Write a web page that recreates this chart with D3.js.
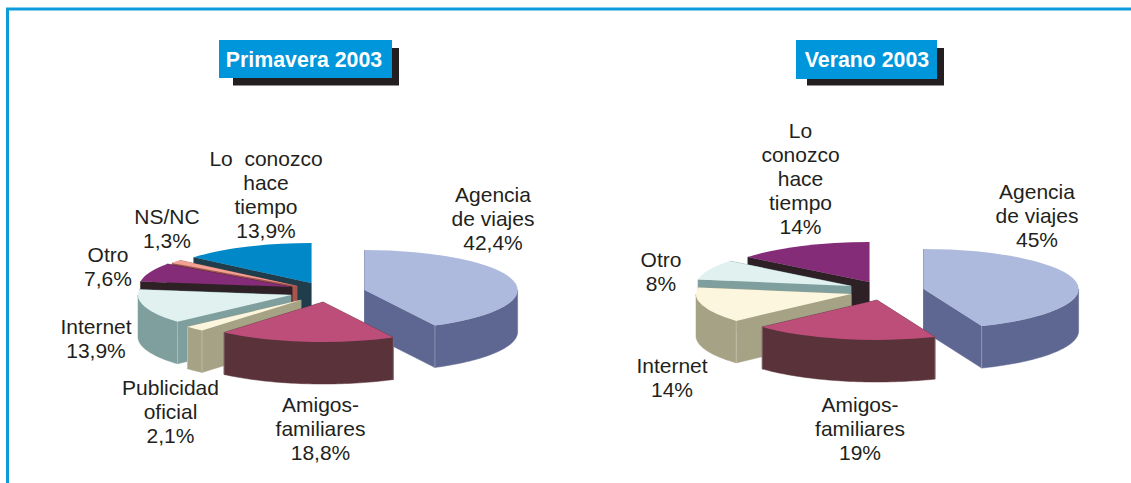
<!DOCTYPE html>
<html lang="es"><head><meta charset="utf-8">
<style>html,body{margin:0;padding:0;background:#fff}svg{display:block}
text{font-family:"Liberation Sans",Arial,sans-serif}</style>
<script src="https://cdn.jsdelivr.net/npm/d3@7/dist/d3.min.js"></script>
</head><body><svg id="c" width="1131" height="483"></svg>
<script>
// ---- data ----
const primaveraCategories = ["Agencia de viajes","Amigos-familiares","Publicidad oficial","Internet","Otro","NS/NC","Lo conozco hace tiempo"];
const primaveraValues = [42.4,18.8,2.1,13.9,7.6,1.3,13.9];
const primaveraTitle = "Primavera 2003";
const veranoCategories = ["Agencia de viajes","Amigos-familiares","Internet","Otro","Lo conozco hace tiempo"];
const veranoValues = [45,19,14,8,14];
const veranoTitle = "Verano 2003";

// ---- styles and layout ----
const palette = {
  blue:["#adbade","#5e6792"], rose:["#bd4e7a","#5a333a"], cream:["#fdf6df","#a6a285"],
  mint:["#e0f1f0","#7f9f9f"], plum:["#852c79","#2e2126"], coral:["#f2a294","#a85550"], cyan:["#0088c8","#203d4b"]
};
const deg = Math.PI/180;
const leftPie = {
  title:primaveraTitle, values:primaveraValues, categories:primaveraCategories,
  format:v=>v.toFixed(1).replace(".",",")+"%",
  colors:["blue","rose","cream","mint","plum","coral","cyan"],
  rx:153, ry:40, depth:42, center:[320,292],
  explode:[[44.6,-2],[3,10],[-19,8],[-29,3],[-28,-5],[-23,-6],[-9,-9]],
  order:[6,5,4,0,3,2,1],
  angleWarp:d3.scaleLinear().domain([0,360*deg]).range([0,360*deg]),
  box:[219,40,173,38], shadow:[233,48,166,37.5], titleX:304,
  labels:[
    {lines:["Agencia","de viajes"],x:493,y:201.5},
    {lines:["Amigos-","familiares"],x:320.5,y:411.5},
    {lines:["Publicidad","oficial"],x:170.5,y:394.5},
    {lines:["Internet"],x:96,y:333.5},
    {lines:["Otro"],x:108,y:261.5},
    {lines:["NS/NC"],x:167,y:223.5},
    {lines:["Lo  conozco","hace","tiempo"],x:266,y:165.5}
  ]
};
const rightPie = {
  title:veranoTitle, values:veranoValues, categories:veranoCategories,
  format:v=>v+"%",
  colors:["blue","rose","cream","mint","plum"],
  rx:155, ry:40, depth:42, center:[860,290],
  explode:[[63.6,-1],[17,10],[-9,4],[-9,-4],[9,-8]],
  order:[4,3,0,2,1],
  // the drawn 3D pie foreshortens the large front slice slightly
  angleWarp:d3.scaleLinear().domain([0,162*deg,360*deg]).range([0,158*deg,360*deg]),
  box:[796,40,141,39], shadow:[807,48,137,37.5], titleX:867,
  labels:[
    {lines:["Agencia","de viajes"],x:1037,y:198.5},
    {lines:["Amigos-","familiares"],x:860,y:411.5},
    {lines:["Internet"],x:672,y:372.5},
    {lines:["Otro"],x:661,y:266.5},
    {lines:["Lo","conozco","hace","tiempo"],x:800.5,y:137.5}
  ]
};
const lineHeight = 24, labelSize = 21, titleSize = 21.3, textColor = "#231f20";

const svg = d3.select("#c");
svg.append("path").attr("d","M1131 9H7.5V483").attr("fill","none").attr("stroke","#0f9ad9").attr("stroke-width",3);

const pieGen = d3.pie().sort(null).value(d=>d);

function drawPie(cfg){
  const slices = pieGen(cfg.values).map(s=>({...s,startAngle:cfg.angleWarp(s.startAngle),endAngle:cfg.angleWarp(s.endAngle)}));
  const g = svg.append("g");
  const k = cfg.ry/cfg.rx;
  const topArc = d3.arc().innerRadius(0).outerRadius(cfg.rx);
  const line = d3.line();
  cfg.order.forEach(i=>{
    const s = slices[i], [top,wall] = palette[cfg.colors[i]];
    const ax = cfg.center[0]+cfg.explode[i][0], ay = cfg.center[1]+cfg.explode[i][1];
    const rim = a=>[ax+cfg.rx*Math.sin(a), ay-cfg.ry*Math.cos(a)];
    const sl = g.append("g").attr("class","slice");
    // radial faces
    [s.startAngle,s.endAngle].forEach(a=>{
      const p = rim(a);
      sl.append("path").attr("fill",wall).attr("stroke",wall).attr("stroke-width",.5)
        .attr("d",line([[ax,ay],p,[p[0],p[1]+cfg.depth],[ax,ay+cfg.depth]])+"Z");
    });
    // curved outer wall: only the front half of the rim shows
    const a0 = Math.max(s.startAngle,Math.PI/2), a1 = Math.min(s.endAngle,Math.PI*1.5);
    if(a1>a0){
      const upper = d3.range(0,1.0001,.02).map(t=>rim(a0+(a1-a0)*t));
      const lower = upper.slice().reverse().map(p=>[p[0],p[1]+cfg.depth]);
      sl.append("path").attr("fill",wall).attr("stroke",wall).attr("stroke-width",.5)
        .attr("d",line(upper.concat(lower))+"Z");
      // faint highlight on the vertical edge between the rim and a visible radial face
      [s.startAngle,s.endAngle].filter(a=>a>Math.PI/2+.01&&a<Math.PI*1.5-.01).forEach(a=>{
        const p = rim(a);
        sl.append("path").attr("fill","none").attr("stroke","#fff").attr("stroke-opacity",.35).attr("stroke-width",.8)
          .attr("d",line([p,[p[0],p[1]+cfg.depth]]));
      });
    }
    // top surface: d3.arc squashed into the pie's ellipse
    sl.append("path").attr("fill",top)
      .attr("transform",`translate(${ax},${ay}) scale(1,${k})`)
      .attr("d",topArc(s));
  });
  // title box
  const [sx,sy,sw,sh] = cfg.shadow, [bx,by,bw,bh] = cfg.box;
  svg.append("rect").attr("x",sx).attr("y",sy).attr("width",sw).attr("height",sh).attr("fill","#231f20");
  svg.append("rect").attr("x",bx).attr("y",by).attr("width",bw).attr("height",bh).attr("fill","#0096db");
  svg.append("text").attr("x",cfg.titleX).attr("y",by+26.5).attr("text-anchor","middle")
    .attr("fill","#fff").attr("font-weight","bold").attr("font-size",titleSize).text(cfg.title);
  // labels
  cfg.labels.forEach((l,i)=>{
    const t = svg.append("text").attr("text-anchor","middle").attr("fill",textColor)
      .attr("font-size",labelSize).style("white-space","pre");
    l.lines.concat([cfg.format(cfg.values[i])]).forEach((ln,j)=>{
      t.append("tspan").attr("x",l.x).attr("y",l.y+j*lineHeight).text(ln);
    });
  });
}
drawPie(leftPie);
drawPie(rightPie);
</script></body></html>
